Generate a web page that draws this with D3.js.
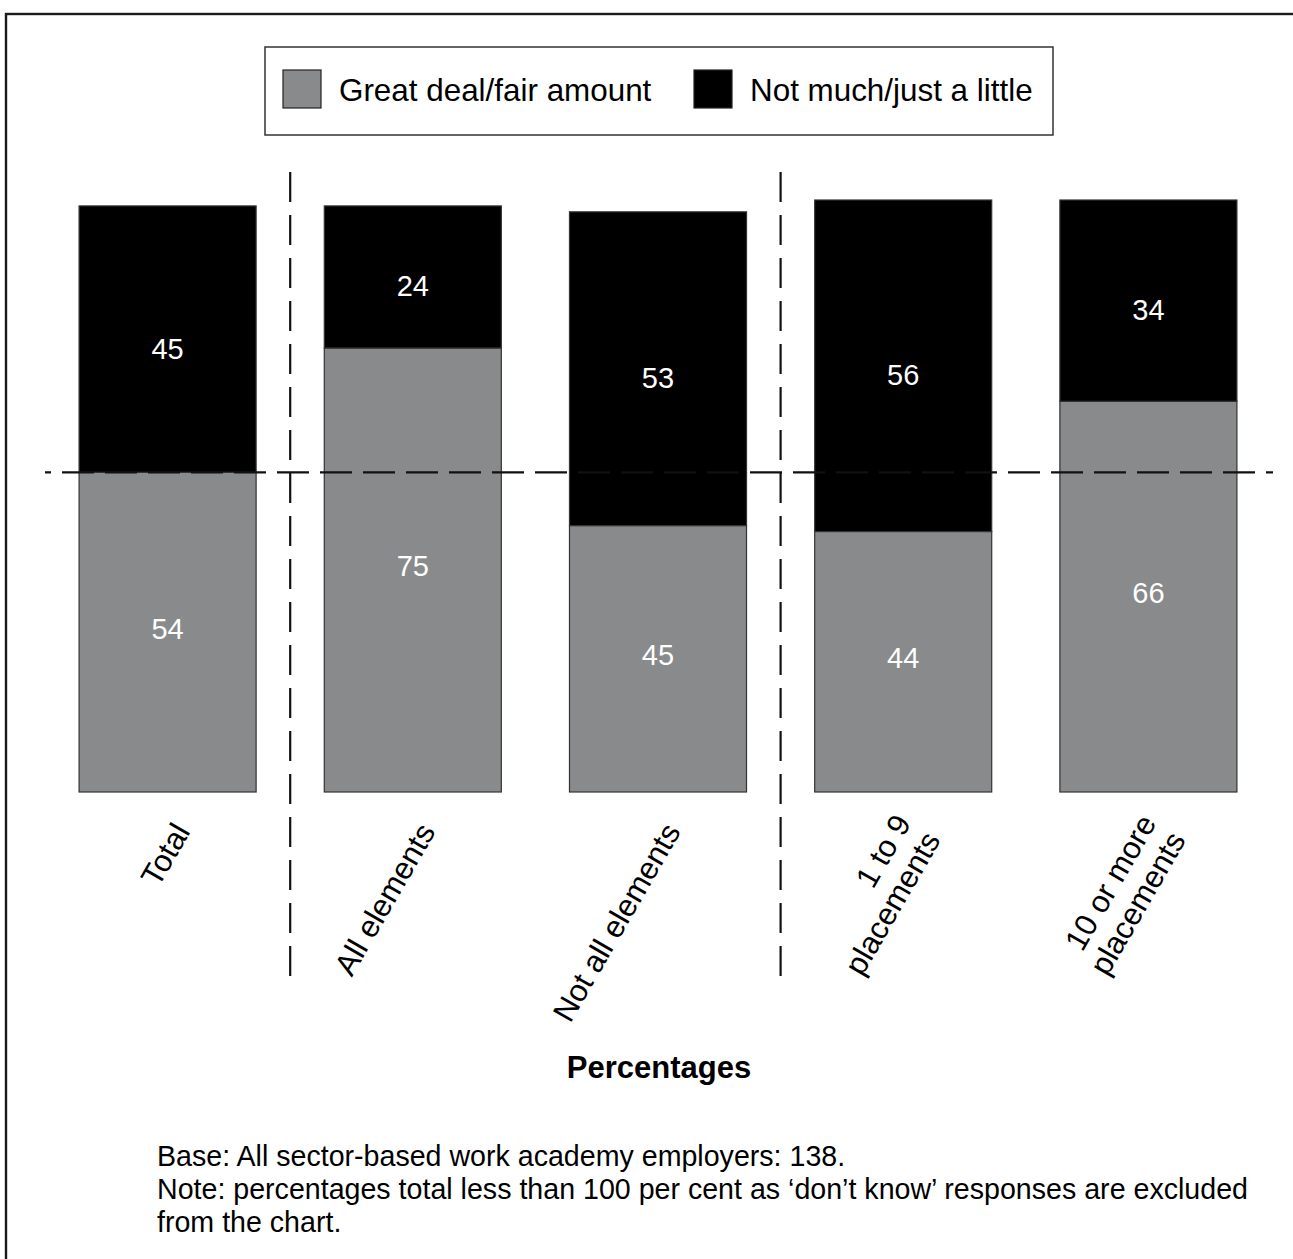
<!DOCTYPE html>
<html><head><meta charset="utf-8">
<script src="https://cdn.jsdelivr.net/npm/d3@7"></script>
<style>
body{margin:0;background:#fff;}
svg{display:block;font-family:"Liberation Sans",Arial,Helvetica,sans-serif;}
</style>
</head><body>
<svg id="chart" width="1293" height="1259"></svg>
<script>
// ---- data ----
const categories = ["Total", "All elements", "Not all elements", "1 to 9 placements", "10 or more placements"];
const categoryLines = [["Total"], ["All elements"], ["Not all elements"], ["1 to 9", "placements"], ["10 or more", "placements"]];
const greatDeal = [54, 75, 45, 44, 66];
const notMuch = [45, 24, 53, 56, 34];
const seriesNames = ["Great deal/fair amount", "Not much/just a little"];
const referenceIndex = 0;          // horizontal dashed line at the Total "great deal" level
const groupBreaks = [1, 3];        // vertical dividers before these category indexes
const axisTitle = "Percentages";
const footnotes = [
  "Base: All sector-based work academy employers: 138.",
  "Note: percentages total less than 100 per cent as \u2018don\u2019t know\u2019 responses are excluded",
  "from the chart."
];

// ---- layout / style ----
const colors = ["#898a8c", "#000000"];
const labelShift = [-4, 9];   // small vertical nudge of value labels per series
const labelAngle = -60;

const svg = d3.select("#chart");

// frame
svg.append("rect").attr("x", 6).attr("y", 14).attr("width", 1320).attr("height", 1320)
  .attr("fill", "none").attr("stroke", "#1a1a1a").attr("stroke-width", 2.4);

const rows = categories.map((c, i) => ({cat: c, g: greatDeal[i], n: notMuch[i]}));
const stack = d3.stack().keys(["g", "n"])(rows);

const x = d3.scaleBand().domain(categories).range([45, 1271]).paddingInner(0.278).paddingOuter(0.139);
const y = d3.scaleLinear().domain([0, 100]).range([792, 200]);

// bars
const layers = svg.append("g").selectAll("g").data(stack).join("g")
  .attr("fill", (d, i) => colors[i]);
layers.selectAll("rect").data(d => d).join("rect")
  .attr("x", d => x(d.data.cat))
  .attr("width", x.bandwidth())
  .attr("y", d => y(d[1]))
  .attr("height", d => y(d[0]) - y(d[1]))
  .attr("stroke", "#333").attr("stroke-width", 1.2);

// vertical dividers
const step = x.step();
svg.append("g").selectAll("line").data(groupBreaks).join("line")
  .attr("x1", d => x(categories[d]) - x.paddingInner() * step / 2)
  .attr("x2", d => x(categories[d]) - x.paddingInner() * step / 2)
  .attr("y1", 172).attr("y2", 985)
  .attr("stroke", "#111").attr("stroke-width", 2.2)
  .attr("stroke-dasharray", "30,13");

// horizontal reference line
svg.append("line")
  .attr("x1", x.range()[0]).attr("x2", x.range()[1] + 2)
  .attr("y1", y(greatDeal[referenceIndex])).attr("y2", y(greatDeal[referenceIndex]))
  .attr("stroke", "#111").attr("stroke-width", 2.2)
  .attr("stroke-dasharray", "32,11").attr("stroke-dashoffset", 26);

// value labels
layers.each(function(layer, li) {
  d3.select(this).selectAll("text").data(layer).join("text")
    .attr("x", d => x(d.data.cat) + x.bandwidth() / 2)
    .attr("y", d => (y(d[0]) + y(d[1])) / 2 + labelShift[li])
    .attr("dy", "0.36em")
    .attr("text-anchor", "middle")
    .attr("fill", "#fff")
    .attr("font-size", 29)
    .text(d => d3.format("d")(d[1] - d[0]));
});

// category labels (rotated, end anchored just below bar centre)
const fs = 31, lh = 34;
categoryLines.forEach((lines, i) => {
  const cx = x(categories[i]) + x.bandwidth() / 2;
  const g = svg.append("g")
    .attr("transform", `translate(${cx + 14},826) rotate(${labelAngle})`);
  const t = g.append("text").attr("font-size", fs).attr("fill", "#000").attr("text-anchor", "end");
  lines.forEach((ln, k) => t.append("tspan").attr("x", 0)
    .attr("y", (k - (lines.length - 1) / 2) * lh).attr("dy", "0.35em").text(ln));
});

// axis title
svg.append("text").attr("x", 659).attr("y", 1078).attr("text-anchor", "middle")
  .attr("font-size", 31).attr("font-weight", "bold").text(axisTitle);

// footnotes
svg.append("g").selectAll("text").data(footnotes).join("text")
  .attr("x", 157).attr("y", (d, i) => 1166 + i * 33)
  .attr("font-size", 28.6).attr("fill", "#000").text(d => d);

// legend
const leg = svg.append("g");
leg.append("rect").attr("x", 265).attr("y", 47).attr("width", 788).attr("height", 88)
  .attr("fill", "#fff").attr("stroke", "#333").attr("stroke-width", 1.5);
const legX = [283, 694];
seriesNames.forEach((s, i) => {
  leg.append("rect").attr("x", legX[i]).attr("y", 70).attr("width", 38).attr("height", 38)
    .attr("fill", colors[i]).attr("stroke", "#222").attr("stroke-width", 1.2);
  leg.append("text").attr("x", legX[i] + 56).attr("y", 101)
    .attr("font-size", 31.4).attr("fill", "#000").text(s);
});
</script>
</body></html>
